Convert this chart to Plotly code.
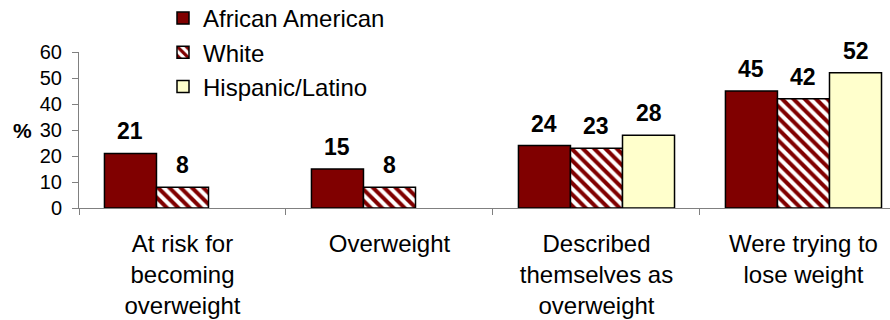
import plotly.graph_objects as go

# Chart data
categories = ["At risk for<br>becoming<br>overweight", "Overweight",
              "Described<br>themselves as<br>overweight", "Were trying to<br>lose weight"]
african_american = [21, 15, 24, 45]
white = [8, 8, 23, 42]
hispanic_latino = [None, None, 28, 52]
series_names = ["African American", "White", "Hispanic/Latino"]
y_ticks = [0, 10, 20, 30, 40, 50, 60]

FONT = "Liberation Sans, Arial, sans-serif"
W, H = 890, 320
ML, MR, MT, MB = 79, 0, 52, 112
X_RANGE = [-0.5, 3.418]
BARGAP = 0.246

fig = go.Figure()

fig.add_trace(go.Bar(
    name=series_names[0], x=categories, y=african_american,
    marker=dict(color="#800000", line=dict(color="black", width=1.5)),
))
fig.add_trace(go.Bar(
    name=series_names[1], x=categories, y=white,
    marker=dict(color="#800000", line=dict(color="black", width=1.5),
                pattern=dict(shape="\\", fillmode="replace", fgcolor="#800000",
                             bgcolor="white", size=8, solidity=0.5)),
))
fig.add_trace(go.Bar(
    name=series_names[2], x=categories, y=hispanic_latino,
    marker=dict(color="#FFFFCC", line=dict(color="black", width=1.5)),
))

# Value labels above each bar, shifted into the bar's slot within the group
plot_w = W - ML - MR
plot_h = H - MT - MB
cat_px = plot_w / (X_RANGE[1] - X_RANGE[0])
bar_px = cat_px * (1 - BARGAP) / 3
for i, vals in enumerate([african_american, white, hispanic_latino]):
    for cat, v in zip(categories, vals):
        if v is None:
            continue
        fig.add_annotation(
            x=cat, y=v, xref="x", yref="y", text=f"<b>{v}</b>",
            showarrow=False, xanchor="center", yanchor="bottom",
            xshift=(i - 1) * bar_px, yshift=7,
            font=dict(family=FONT, size=23, color="black"),
        )

# "%" axis label
fig.add_annotation(
    x=(22 - ML) / plot_w, y=30, xref="paper", yref="y", text="<b>%</b>",
    showarrow=False, xanchor="center", yanchor="middle",
    font=dict(family=FONT, size=21, color="black"),
)

fig.update_layout(
    width=W, height=H,
    margin=dict(l=ML, r=MR, t=MT, b=MB, autoexpand=False),
    paper_bgcolor="white", plot_bgcolor="white",
    barmode="group", bargap=BARGAP, bargroupgap=0,
    font=dict(family=FONT, color="black"),
    legend=dict(
        xref="paper", yref="paper",
        x=(163 - ML) / plot_w, y=1 + (MT + 4) / plot_h,
        xanchor="left", yanchor="top",
        font=dict(family=FONT, size=24, color="black"),
        bgcolor="rgba(0,0,0,0)", borderwidth=0,
    ),
    xaxis=dict(
        type="category", categoryorder="array", categoryarray=categories,
        range=X_RANGE, tickson="boundaries", ticks="outside", ticklen=6,
        tickcolor="#808080", showline=True, linecolor="#808080", linewidth=1,
        showgrid=False, tickangle=0, automargin=False, ticklabelstandoff=14,
        tickfont=dict(family=FONT, size=24, color="black"),
    ),
    yaxis=dict(
        range=[0, 60], tickmode="array", tickvals=y_ticks, ticks="outside",
        ticklen=6, tickcolor="#808080", showline=True, linecolor="#808080",
        linewidth=1, showgrid=False, zeroline=False, automargin=False,
        ticklabelstandoff=6,
        tickfont=dict(family=FONT, size=20, color="black"),
    ),
)

fig.write_html("out.html")
